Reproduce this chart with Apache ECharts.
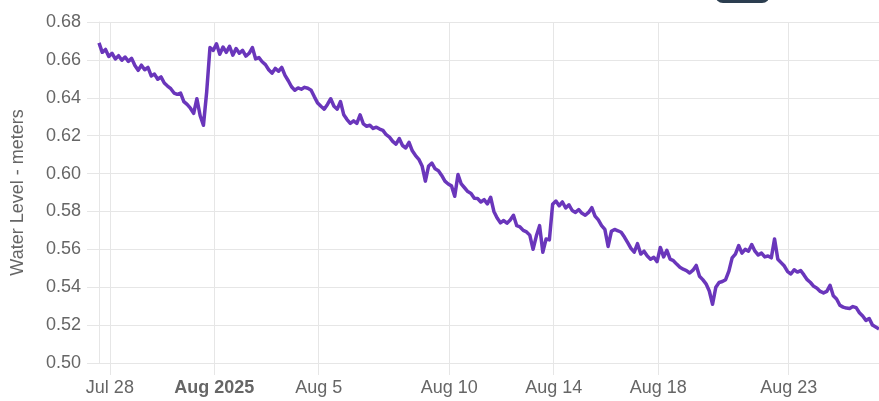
<!DOCTYPE html>
<html>
<head>
<meta charset="utf-8">
<script src="https://cdn.jsdelivr.net/npm/echarts@6/dist/echarts.min.js"></script>
<style>
html,body{margin:0;padding:0;background:#fff;}
#chart{width:879px;height:401px;}
</style>
</head>
<body>
<div id="chart"></div>
<script>
// Sampling of the water level series: one reading every 3 hours starting Jul 27 14:00
var seriesStart = [2025, 6, 27, 14];
var stepHours = 3;
var waterLevel = [
0.6690,0.6640,0.6655,0.6618,0.6635,0.6605,0.6622,0.6598,0.6615,0.6592,
0.6608,0.6570,0.6545,0.6572,0.6548,0.6560,0.6515,0.6525,0.6498,0.6510,
0.6478,0.6462,0.6448,0.6425,0.6418,0.6425,0.6380,0.6365,0.6345,0.6318,
0.6395,0.6305,0.6255,0.6432,0.6665,0.6650,0.6685,0.6630,0.6668,0.6640,
0.6672,0.6625,0.6660,0.6635,0.6650,0.6620,0.6635,0.6665,0.6605,0.6612,
0.6590,0.6575,0.6548,0.6530,0.6555,0.6540,0.6560,0.6518,0.6490,0.6458,
0.6440,0.6452,0.6445,0.6455,0.6450,0.6440,0.6405,0.6372,0.6355,0.6340,
0.6365,0.6395,0.6355,0.6340,0.6380,0.6310,0.6285,0.6265,0.6278,0.6265,
0.6310,0.6262,0.6250,0.6255,0.6238,0.6245,0.6235,0.6228,0.6205,0.6192,
0.6170,0.6155,0.6185,0.6148,0.6135,0.6165,0.6120,0.6095,0.6075,0.6040,
0.5960,0.6040,0.6055,0.6025,0.6015,0.5990,0.5960,0.5945,0.5935,0.5880,
0.5995,0.5945,0.5925,0.5905,0.5895,0.5870,0.5868,0.5850,0.5862,0.5840,
0.5875,0.5800,0.5765,0.5740,0.5752,0.5738,0.5755,0.5780,0.5725,0.5718,
0.5700,0.5692,0.5675,0.5600,0.5670,0.5725,0.5585,0.5655,0.5650,0.5838,
0.5855,0.5830,0.5850,0.5818,0.5835,0.5805,0.5795,0.5810,0.5790,0.5780,
0.5795,0.5820,0.5775,0.5755,0.5725,0.5705,0.5615,0.5695,0.5705,0.5698,
0.5690,0.5665,0.5635,0.5605,0.5585,0.5630,0.5575,0.5590,0.5565,0.5548,
0.5558,0.5535,0.5610,0.5560,0.5595,0.5548,0.5540,0.5522,0.5505,0.5495,
0.5488,0.5475,0.5490,0.5515,0.5458,0.5440,0.5418,0.5380,0.5310,0.5400,
0.5425,0.5430,0.5440,0.5485,0.5555,0.5575,0.5620,0.5580,0.5600,0.5590,
0.5625,0.5590,0.5570,0.5580,0.5560,0.5565,0.5555,0.5655,0.5548,0.5530,
0.5512,0.5482,0.5470,0.5492,0.5480,0.5488,0.5465,0.5440,0.5425,0.5405,
0.5395,0.5378,0.5370,0.5378,0.5410,0.5355,0.5338,0.5305,0.5295,0.5290,
0.5288,0.5298,0.5292,0.5265,0.5248,0.5225,0.5235,0.5200,0.5190,0.5180
];

// x axis ticks
var tickDates = [[2025,6,28],[2025,7,1],[2025,7,5],[2025,7,10],[2025,7,14],[2025,7,18],[2025,7,23]];
var tickLabels = ['Jul 28','Aug 2025','Aug 5','Aug 10','Aug 14','Aug 18','Aug 23'];
var boldTicks = ['Aug 2025'];
var axisMinDate = [2025, 6, 27, 14];
var axisMaxDate = [2025, 7, 26, 11];

// y axis
var yMin = 0.50, yMax = 0.68, yStep = 0.02;
var yTitle = 'Water Level - meters';

var HOUR = 3600 * 1000;
var t0 = new Date(seriesStart[0], seriesStart[1], seriesStart[2], seriesStart[3]).getTime();
var data = waterLevel.map(function (v, i) { return [t0 + i * stepHours * HOUR, v]; });
var tickTimes = tickDates.map(function (d) { return new Date(d[0], d[1], d[2]).getTime(); });
var labelByTime = {};
tickTimes.forEach(function (t, i) { labelByTime[t] = tickLabels[i]; });

var gridColor = '#e6e6e6';
var chart = echarts.init(document.getElementById('chart'), null, { renderer: 'canvas' });
chart.setOption({
  animation: false,
  backgroundColor: '#fff',
  textStyle: { fontFamily: '"Liberation Sans", Arial, Helvetica, sans-serif' },
  grid: { left: 99, top: 22, right: 0, bottom: 38, containLabel: false },
  graphic: [{
    type: 'rect', left: 715, top: -24,
    shape: { width: 55, height: 27, r: 8 },
    style: { fill: '#2c3e50' }
  }],
  xAxis: {
    type: 'value',
    scale: true,
    min: new Date(axisMinDate[0], axisMinDate[1], axisMinDate[2], axisMinDate[3]).getTime(),
    max: new Date(axisMaxDate[0], axisMaxDate[1], axisMaxDate[2], axisMaxDate[3]).getTime(),
    axisLine: { show: true, lineStyle: { color: gridColor, width: 1 } },
    axisTick: { show: true, length: 12, customValues: tickTimes, lineStyle: { color: gridColor } },
    splitLine: { show: true, lineStyle: { color: gridColor } },
    axisLabel: {
      customValues: tickTimes,
      margin: 16,
      fontSize: 18,
      color: '#666',
      hideOverlap: false,
      showMinLabel: true,
      showMaxLabel: true,
      formatter: function (v) {
        var l = labelByTime[v] || '';
        return boldTicks.indexOf(l) >= 0 ? '{b|' + l + '}' : l;
      },
      rich: { b: { fontWeight: 'bold', fontSize: 18, color: '#666' } }
    }
  },
  yAxis: {
    type: 'value',
    min: yMin, max: yMax, interval: yStep,
    name: yTitle,
    nameLocation: 'middle',
    nameGap: 72,
    nameTextStyle: { fontSize: 18, color: '#666' },
    axisLine: { show: true, lineStyle: { color: gridColor } },
    axisTick: { show: true, length: 12, lineStyle: { color: gridColor } },
    splitLine: { show: true, lineStyle: { color: gridColor } },
    axisLabel: {
      margin: 18, fontSize: 18, color: '#666',
      formatter: function (v) { return v.toFixed(2); }
    }
  },
  series: [{
    type: 'line',
    data: data,
    showSymbol: false,
    symbol: 'none',
    lineStyle: { color: '#6a36bb', width: 3.5, join: 'round' },
    itemStyle: { color: '#6a36bb' }
  }]
});
</script>
</body>
</html>
